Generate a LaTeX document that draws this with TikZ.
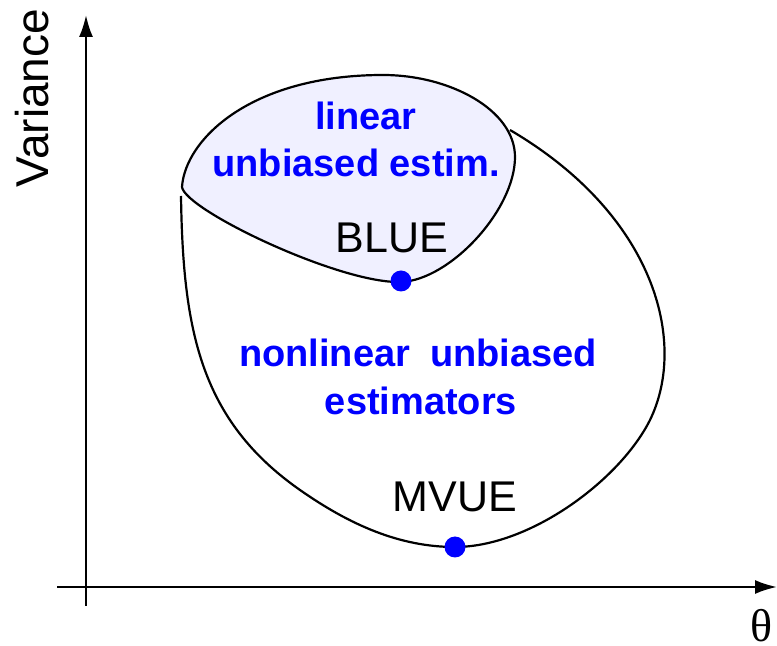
\documentclass[tikz,border=0pt]{standalone}
\usepackage{fontspec}
\setmainfont{Liberation Sans}
\newfontfamily\thetafont{Liberation Serif}
\usepackage{xcolor}
\usetikzlibrary{arrows.meta}
\definecolor{lavender}{RGB}{240,240,255}

\begin{document}
\begin{tikzpicture}[x=0.5pt, y=-0.5pt,
  lbl/.style={font=\fontsize{21.5}{26}\selectfont, anchor=base, inner sep=0pt},
  blu/.style={font=\fontsize{19}{23}\selectfont\bfseries, text=blue, anchor=base, inner sep=0pt},
  dot/.style={circle, fill=blue, inner sep=0pt, minimum size=10.5pt},
  arr/.style={-{Latex[length=11pt, width=7pt]}, line width=1.1pt},
  curve/.style={line width=1.1pt}]
\useasboundingbox (0,0) rectangle (777,646);
% axes
\coordinate (ybot) at (86,606);
\coordinate (ytop) at (86,15);
\coordinate (xleft) at (57,587);
\coordinate (xright) at (777,587);
\draw[arr] (ybot) -- (ytop);
\draw[arr] (xleft) -- (xright);
\node[lbl, rotate=90, font=\fontsize{23}{26}\selectfont] (var) at (48,98) {Variance};
\node[lbl, font=\fontsize{23}{26}\thetafont] (theta) at (762,641) {θ};
% linear estimators
\draw[curve, fill=lavender] (182,187) .. controls (185,140) and (250,75) .. (383,75)
  .. controls (450,75) and (515,110) .. (515,157)
  .. controls (515,210) and (450,280) .. (401,282)
  .. controls (340,284) and (185,210) .. cycle;
% all unbiased estimators
\draw[curve] (181,196) .. controls (183,330) and (200,420) .. (300,490)
  .. controls (350,525) and (400,547) .. (455,547)
  .. controls (530,547) and (620,480) .. (650,420)
  .. controls (688,342) and (655,215) .. (510,130);
\node[blu] (lin1) at (366,130) {linear};
\node[blu] (lin2) at (356,177) {unbiased estim.};
\node[blu] (nl1) at (418,367) {nonlinear\hspace{0.25em} unbiased};
\node[blu] (nl2) at (421,415) {estimators};
\node[dot] (blue) at (401,281) {};
\node[dot] (mvue) at (455,547) {};
\node[lbl] (bluelab) at (392,253) {BLUE};
\node[lbl] (mvuelab) at (455,512) {MVUE};
\end{tikzpicture}
\end{document}
